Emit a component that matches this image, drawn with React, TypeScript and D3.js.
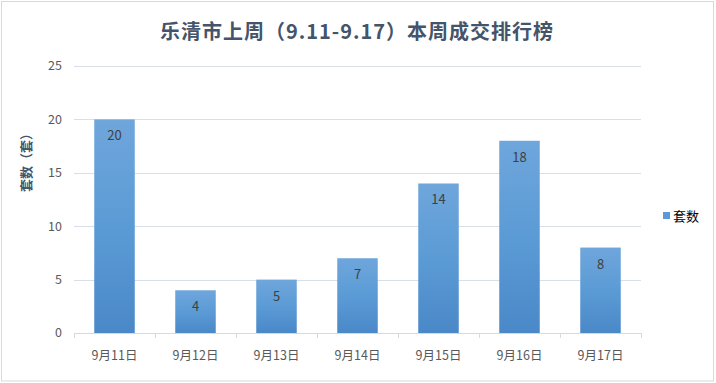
import React from "react";
import * as d3 from "d3";

const categories = ["9月11日", "9月12日", "9月13日", "9月14日", "9月15日", "9月16日", "9月17日"];
const values = [20, 4, 5, 7, 14, 18, 8];
const yTicks = [0, 5, 10, 15, 20, 25];
const title = "乐清市上周（9.11-9.17）本周成交排行榜";
const yLabel = "套数（套）";
const seriesName = "套数";

const W = 716;
const H = 383;
const FONT = "'Noto Sans CJK SC', 'Microsoft YaHei', sans-serif";

export default function App() {
  const left = 74, right = 641, top = 66, bottom = 333;
  const x = d3.scaleBand<string>().domain(categories).range([left, right]).paddingInner(0.5).paddingOuter(0.25);
  const y = d3.scaleLinear().domain([0, 25]).range([bottom, top]);
  const band = (right - left) / categories.length;

  return (
    <svg width={W} height={H} style={{ position: "absolute", left: 0, top: 0 }} fontFamily={FONT}>
      <defs>
        <linearGradient id="barGrad" x1="0" y1="0" x2="0" y2="1">
          <stop offset="0%" stopColor="#6fa6dc" />
          <stop offset="50%" stopColor="#5b9bd5" />
          <stop offset="100%" stopColor="#4a88c8" />
        </linearGradient>
      </defs>
      <rect x={1.5} y={1.5} width={712} height={379.5} fill="#fff" stroke="#d9d9d9" strokeWidth={1} />
      <text x={357} y={39} textAnchor="middle" fontSize={20} letterSpacing={1} fontWeight="bold" fill="#44546a">
        {title}
      </text>
      {yTicks.map((t) => (
        <g key={t}>
          {t > 0 && (
            <line x1={left} x2={right} y1={Math.round(y(t)) + 0.5} y2={Math.round(y(t)) + 0.5} stroke="#d9dfe8" />
          )}
          <text x={62} y={y(t)} dy="0.35em" textAnchor="end" fontSize={12.5} fill="#595959">
            {t}
          </text>
        </g>
      ))}
      <text
        transform={`translate(26,${(top + bottom) / 2 - 40}) rotate(-90)`}
        textAnchor="middle"
        dy="0.35em"
        fontSize={13}
        fontWeight="bold"
        fill="#44546a"
      >
        {yLabel}
      </text>
      {categories.map((c, i) => (
        <g key={c}>
          <rect
            x={x(c)}
            y={y(values[i])}
            width={x.bandwidth()}
            height={bottom - y(values[i])}
            fill="url(#barGrad)"
          />
          <text
            x={(x(c) as number) + x.bandwidth() / 2}
            y={y(values[i]) + 21}
            textAnchor="middle"
            fontSize={13}
            fill="#404040"
          >
            {values[i]}
          </text>
          <text x={left + band * (i + 0.5)} y={360} textAnchor="middle" fontSize={12.5} fill="#595959">
            {c}
          </text>
        </g>
      ))}
      <line x1={left} x2={right} y1={bottom + 0.5} y2={bottom + 0.5} stroke="#d9d9d9" />
      {d3.range(categories.length + 1).map((i) => (
        <line
          key={i}
          x1={Math.round(left + band * i) + 0.5}
          x2={Math.round(left + band * i) + 0.5}
          y1={bottom}
          y2={bottom + 5}
          stroke="#d9d9d9"
        />
      ))}
      <rect x={663} y={212} width={7} height={7} fill="#5b9bd5" />
      <text x={673} y={216} dy="0.35em" fontSize={13} fill="#000">
        {seriesName}
      </text>
    </svg>
  );
}
